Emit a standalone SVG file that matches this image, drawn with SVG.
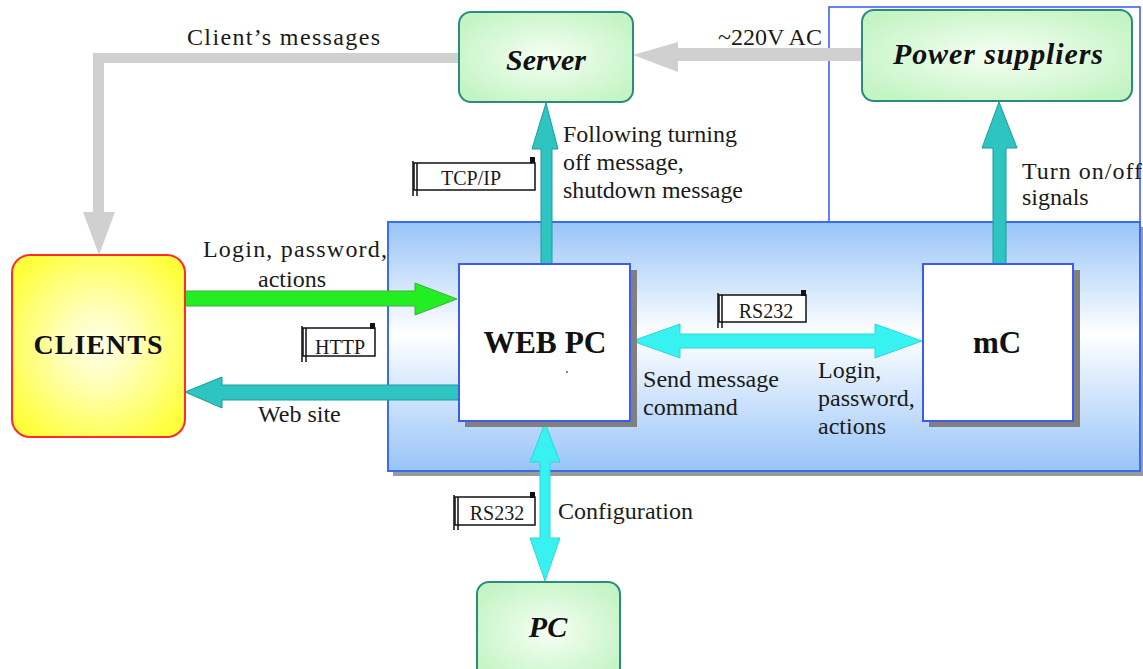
<svg xmlns="http://www.w3.org/2000/svg" width="1143" height="669" viewBox="0 0 1143 669">
  <defs>
    <radialGradient id="gGreen" cx="50%" cy="50%" r="60%">
      <stop offset="0" stop-color="#f6fff4"/>
      <stop offset="1" stop-color="#c4f4c4"/>
    </radialGradient>
    <radialGradient id="gYellow" cx="50%" cy="50%" r="60%">
      <stop offset="0" stop-color="#ffffec"/>
      <stop offset="0.4" stop-color="#ffffb0"/>
      <stop offset="1" stop-color="#ffff3c"/>
    </radialGradient>
    <linearGradient id="gBlue" x1="0" y1="0" x2="0" y2="1">
      <stop offset="0" stop-color="#98c4f8"/>
      <stop offset="0.45" stop-color="#ffffff"/>
      <stop offset="1" stop-color="#98c4f8"/>
    </linearGradient>
    <style>
      .lbl { font-family: "Liberation Serif", "Times New Roman", serif; font-size: 24px; fill: #1a1a1a; }
      .tag { font-family: "Liberation Serif", "Times New Roman", serif; font-size: 20px; fill: #1a1a1a; }
      .title { font-family: "Liberation Serif", "Times New Roman", serif; font-weight: bold; fill: #111; text-anchor: middle; }
      .greenbox { fill: url(#gGreen); stroke: #2a8c7c; stroke-width: 2; }
      .whitebox { fill: #ffffff; stroke: #3a5cf5; stroke-width: 2; }
      .shadow { fill: #808080; }
      .gray { fill: #d0d0d0; }
      .teal { fill: #2ec4c2; stroke: #1a9c98; stroke-width: 1; }
      .cyan { fill: #38f2f2; stroke: #2ad8d8; stroke-width: 1; }
      .green { fill: #22ee22; stroke: #44aa44; stroke-width: 1; }
      .scroll { fill: #ffffff; stroke: #111; stroke-width: 1.5; }
      .curl { stroke: #111; stroke-width: 1.5; fill: none; }
    </style>
  </defs>

  <rect width="1143" height="669" fill="#ffffff"/>

  <!-- enclosure: thin outline round the power side -->
  <rect x="829" y="7" width="311" height="216" fill="none" stroke="#3355ff" stroke-width="1.5"/>

  <!-- main blue panel -->
  <g id="panel">
    <rect x="393" y="227" width="752" height="249" fill="#9a9a9a"/>
    <rect x="388" y="222" width="752" height="249" fill="url(#gBlue)" stroke="#3a6cf0" stroke-width="2"/>
  </g>

  <g id="connectors">
    <!-- client's messages (gray) -->
    <path class="gray" d="M459,53 L93,53 L93,212 L83,212 L99,255 L115,212 L104,212 L104,63 L459,63 Z"/>
    <!-- ~220V AC (gray) -->
    <path class="gray" d="M862,48 L678,48 L678,42 L633,55 L678,72 L678,61 L862,61 Z"/>
    <!-- WEB PC to Server (teal) -->
    <path class="teal" d="M541,264 L541,149 L532,149 L546,103 L558,149 L552,149 L552,264 Z"/>
    <!-- mC to Power suppliers (teal) -->
    <path class="teal" d="M993,264 L993,148 L982,148 L999,102 L1017,148 L1006,148 L1006,264 Z"/>
    <!-- login from clients (green) -->
    <path class="green" d="M185,291 L415,291 L415,283 L457,299 L415,315 L415,306 L185,306 Z"/>
    <!-- web site to clients (teal) -->
    <path class="teal" d="M459,385 L222,385 L222,377 L185,392 L222,408 L222,400 L459,400 Z"/>
    <!-- RS232 WEB PC <-> mC (cyan) -->
    <path class="cyan" d="M632,341 L680,324 L680,334 L875,334 L875,324 L922,341 L875,358 L875,348 L680,348 L680,358 Z"/>
    <!-- RS232 WEB PC <-> PC (cyan) -->
    <path class="cyan" d="M545,423 L560,462 L550,462 L550,538 L560,538 L545,581 L530,538 L540,538 L540,462 L530,462 Z"/>
  </g>

  <!-- nodes -->
  <g id="server">
    <rect class="greenbox" x="459" y="12" width="174" height="90" rx="12"/>
    <text class="title" x="546" y="70" font-size="30" font-style="italic">Server</text>
  </g>

  <g id="power-suppliers">
    <rect class="greenbox" x="862" y="10" width="270" height="91" rx="12"/>
    <text class="title" x="998" y="64" font-size="30" font-style="italic" textLength="210" lengthAdjust="spacing">Power suppliers</text>
  </g>

  <g id="clients">
    <rect x="12" y="255" width="173" height="182" rx="18" fill="url(#gYellow)" stroke="#ff2a2a" stroke-width="2"/>
    <text class="title" x="98" y="354" font-size="28" textLength="129" lengthAdjust="spacing">CLIENTS</text>
  </g>

  <g id="web-pc">
    <rect class="shadow" x="465" y="270" width="172" height="157"/>
    <rect class="whitebox" x="459" y="264" width="171" height="157"/>
    <text class="title" x="545" y="353" font-size="31" textLength="123" lengthAdjust="spacingAndGlyphs">WEB PC</text>
    <circle cx="567" cy="372" r="0.9" fill="#555"/>
  </g>

  <g id="mc">
    <rect class="shadow" x="929" y="270" width="151" height="157"/>
    <rect class="whitebox" x="923" y="264" width="150" height="157"/>
    <text class="title" x="997" y="353" font-size="31">mC</text>
  </g>

  <g id="pc">
    <rect class="greenbox" x="477" y="582" width="143" height="100" rx="12"/>
    <text class="title" x="548" y="637" font-size="30" font-style="italic">PC</text>
  </g>

  <!-- protocol tags (scroll-shaped callouts) -->
  <g id="tag-tcpip">
    <rect class="scroll" x="414" y="163" width="121" height="27"/>
    <path class="curl" d="M413,161 L413,196 M417,163 L417,196"/>
    <rect x="530" y="157" width="5" height="6" fill="#111"/>
    <text class="tag" x="471" y="185" text-anchor="middle">TCP/IP</text>
  </g>
  <g id="tag-http">
    <rect class="scroll" x="303" y="328" width="72" height="28"/>
    <path class="curl" d="M302,326 L302,362 M306,328 L306,362"/>
    <rect x="370" y="323" width="5" height="6" fill="#111"/>
    <text class="tag" x="340" y="354" text-anchor="middle">HTTP</text>
  </g>
  <g id="tag-rs232-top">
    <rect class="scroll" x="719" y="295" width="87" height="27"/>
    <path class="curl" d="M718,293 L718,328 M722,295 L722,328"/>
    <rect x="801" y="290" width="5" height="6" fill="#111"/>
    <text class="tag" x="766" y="318" text-anchor="middle">RS232</text>
  </g>
  <g id="tag-rs232-bottom">
    <rect class="scroll" x="455" y="497" width="80" height="28"/>
    <path class="curl" d="M454,495 L454,530 M458,497 L458,530"/>
    <rect x="530" y="492" width="5" height="6" fill="#111"/>
    <text class="tag" x="497" y="520" text-anchor="middle">RS232</text>
  </g>

  <!-- connector labels -->
  <g id="labels">
    <text class="lbl" x="187" y="45" textLength="193" lengthAdjust="spacing">Client’s messages</text>
    <text class="lbl" x="718" y="45">~220V AC</text>
    <text class="lbl" x="563" y="142">Following turning</text>
    <text class="lbl" x="563" y="170">off message,</text>
    <text class="lbl" x="563" y="198" textLength="180" lengthAdjust="spacingAndGlyphs">shutdown message</text>
    <text class="lbl" x="1022" y="179" textLength="120" lengthAdjust="spacing">Turn on/off</text>
    <text class="lbl" x="1022" y="205">signals</text>
    <text class="lbl" x="203" y="257" textLength="184" lengthAdjust="spacing">Login, password,</text>
    <text class="lbl" x="258" y="287">actions</text>
    <text class="lbl" x="258" y="422">Web site</text>
    <text class="lbl" x="643" y="387" textLength="136" lengthAdjust="spacingAndGlyphs">Send message</text>
    <text class="lbl" x="643" y="415">command</text>
    <text class="lbl" x="818" y="378">Login,</text>
    <text class="lbl" x="818" y="406">password,</text>
    <text class="lbl" x="818" y="434">actions</text>
    <text class="lbl" x="558" y="519" textLength="135" lengthAdjust="spacing">Configuration</text>
  </g>
</svg>
